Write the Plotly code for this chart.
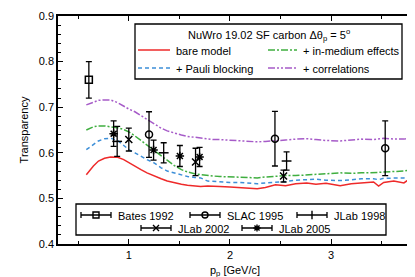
import plotly.graph_objects as go

# ---------------- data ----------------
p_grid = [0.58, 0.65, 0.70, 0.76, 0.82, 0.89, 0.95, 1.0, 1.06, 1.12, 1.18, 1.25, 1.32, 1.38,
          1.45, 1.52, 1.58, 1.65, 1.71, 1.78, 1.84, 1.9, 2.0, 2.1, 2.2, 2.27, 2.35, 2.45,
          2.55, 2.65, 2.76, 2.85, 2.95, 3.09, 3.2, 3.3, 3.42, 3.47, 3.52, 3.62, 3.72, 3.79]
bare = [0.552, 0.571, 0.582, 0.588, 0.591, 0.590, 0.585, 0.578, 0.570, 0.563, 0.556, 0.549,
        0.543, 0.538, 0.534, 0.531, 0.529, 0.527, 0.526, 0.527, 0.527, 0.526, 0.525, 0.524,
        0.522, 0.521, 0.524, 0.530, 0.528, 0.532, 0.534, 0.531, 0.533, 0.528, 0.532, 0.534,
        0.536, 0.527, 0.535, 0.538, 0.534, 0.545]
pauli = [0.607, 0.619, 0.626, 0.631, 0.632, 0.627, 0.616, 0.607, 0.600, 0.592, 0.585, 0.578,
         0.567, 0.560, 0.556, 0.551, 0.548, 0.546, 0.545, 0.538, 0.537, 0.536, 0.535, 0.535,
         0.533, 0.532, 0.534, 0.535, 0.537, 0.540, 0.541, 0.542, 0.540, 0.539, 0.541, 0.543,
         0.543, 0.541, 0.544, 0.544, 0.545, 0.552]
medium = [0.650, 0.657, 0.659, 0.659, 0.657, 0.655, 0.651, 0.646, 0.637, 0.627, 0.617, 0.605,
          0.594, 0.582, 0.572, 0.563, 0.558, 0.554, 0.552, 0.550, 0.549, 0.548, 0.547, 0.546,
          0.545, 0.545, 0.547, 0.549, 0.550, 0.550, 0.551, 0.552, 0.554, 0.556, 0.555, 0.556,
          0.556, 0.557, 0.558, 0.559, 0.560, 0.563]
corr = [0.705, 0.711, 0.715, 0.716, 0.716, 0.710, 0.702, 0.696, 0.690, 0.682, 0.673, 0.663,
        0.654, 0.648, 0.643, 0.639, 0.636, 0.634, 0.632, 0.630, 0.629, 0.629, 0.628, 0.627,
        0.625, 0.624, 0.625, 0.626, 0.628, 0.630, 0.631, 0.629, 0.627, 0.626, 0.628, 0.630,
        0.629, 0.631, 0.632, 0.630, 0.630, 0.633]

bates_p = [0.605]
bates_t = [0.76]
bates_e = [0.04]
slac_p = [1.20, 2.445, 3.535]
slac_t = [0.64, 0.631, 0.61]
slac_e = [0.05, 0.06, 0.06]
jlab98_p = [0.885, 1.345, 2.56]
jlab98_t = [0.625, 0.600, 0.582]
jlab98_e = [0.033, 0.022, 0.02]
jlab02_p = [1.0, 1.66, 2.53]
jlab02_t = [0.629, 0.58, 0.549]
jlab02_e = [0.025, 0.03, 0.013]
jlab05_p = [0.85, 1.245, 1.505, 1.70]
jlab05_t = [0.642, 0.606, 0.593, 0.591]
jlab05_e = [0.028, 0.022, 0.023, 0.021]

x_ticks = [1, 2, 3]
y_ticks = [0.4, 0.5, 0.6, 0.7, 0.8, 0.9]

# ---------------- styles ----------------
FONT = "Liberation Sans, Arial, Helvetica, sans-serif"
RED = "#ee2a2a"
BLUE = "#3d8fd8"
GREEN = "#3fae3f"
PURPLE = "#a65bc8"
curves = [
    (bare, RED, "solid"),
    (pauli, BLUE, "4px,3px"),
    (medium, GREEN, "7px,2px,2px,2px"),
    (corr, PURPLE, "7px,2px,2px,2px,2px,2px"),
]

fig = go.Figure()
for ys, col, dash in curves:
    fig.add_trace(go.Scatter(x=p_grid, y=ys, mode="lines",
                             line=dict(color=col, width=1.5, dash=dash),
                             showlegend=False, hoverinfo="skip"))

datasets = [
    (bates_p, bates_t, bates_e, "square-open", 7),
    (slac_p, slac_t, slac_e, "circle-open", 7),
    (jlab98_p, jlab98_t, jlab98_e, "line-ew", 7),
    (jlab02_p, jlab02_t, jlab02_e, "x-thin-open", 7),
    (jlab05_p, jlab05_t, jlab05_e, "asterisk-open", 7),
]
for xs, ys, es, sym, sz in datasets:
    fig.add_trace(go.Scatter(
        x=xs, y=ys, mode="markers",
        marker=dict(symbol=sym, size=sz, color="black",
                    line=dict(color="black", width=1.5)),
        error_y=dict(type="data", array=es, visible=True, color="black",
                     thickness=1.3, width=3),
        showlegend=False))

# ---------------- legend (overlay axes in pixel-like units) ----------------
shapes = []
annotations = []
# top legend box
shapes.append(dict(type="rect", xref="x2", yref="y2", x0=127, x1=394, y0=16, y1=71,
                   line=dict(color="black", width=1.3), fillcolor="white", layer="below"))
annotations.append(dict(xref="x2", yref="y2", x=261, y=27, showarrow=False,
                        text="NuWro 19.02 SF carbon Δθ<sub>p</sub> = 5<sup>o</sup>",
                        font=dict(family=FONT, size=11, color="black")))
top_items = [
    (130, 162, 42, RED, "solid", "bare model"),
    (130, 162, 60, BLUE, "4px,3px", "+ Pauli blocking"),
    (260, 289, 42, GREEN, "7px,2px,2px,2px", "+ in-medium effects"),
    (260, 289, 60, PURPLE, "7px,2px,2px,2px,2px,2px", "+ correlations"),
]
for x0, x1, yy, col, dash, txt in top_items:
    fig.add_trace(go.Scatter(x=[x0, x1], y=[yy, yy], xaxis="x2", yaxis="y2", mode="lines",
                             line=dict(color=col, width=1.5, dash=dash),
                             showlegend=False, hoverinfo="skip"))
    annotations.append(dict(xref="x2", yref="y2", x=x1 + 4, y=yy + 1, xanchor="left",
                            showarrow=False, text=txt,
                            font=dict(family=FONT, size=11, color="black")))

# bottom legend box
shapes.append(dict(type="rect", xref="x2", yref="y2", x0=68, x1=378, y0=196, y1=227,
                   line=dict(color="black", width=1.3), fillcolor="white", layer="below"))
bottom_items = [
    (73, 103, 207, "square-open", "Bates 1992"),
    (182, 212, 207, "circle-open", "SLAC 1995"),
    (289, 319, 207, "line-ns", "JLab 1998"),
    (133, 163, 220, "x-thin-open", "JLab 2002"),
    (234, 264, 220, "asterisk-open", "JLab 2005"),
]
for x0, x1, yy, sym, txt in bottom_items:
    xc = (x0 + x1) / 2
    fig.add_trace(go.Scatter(
        x=[xc], y=[yy], xaxis="x2", yaxis="y2", mode="markers",
        marker=dict(symbol=sym, size=6, color="black", line=dict(color="black", width=1.4)),
        error_x=dict(type="constant", value=(x1 - x0) / 2, color="black", thickness=1.3, width=3),
        showlegend=False, hoverinfo="skip"))
    annotations.append(dict(xref="x2", yref="y2", x=x1 + 5, y=yy + 1, xanchor="left",
                            showarrow=False, text=txt,
                            font=dict(family=FONT, size=11, color="black")))

axis_common = dict(showgrid=False, zeroline=False, showline=True, linecolor="black",
                   linewidth=1.5, mirror="allticks", ticks="inside", tickcolor="black",
                   tickwidth=1.2, ticklen=5, automargin=False,
                   tickfont=dict(family=FONT, size=11, color="black"))

fig.update_layout(
    width=415, height=277, autosize=False,
    margin=dict(l=50, r=11, t=8, b=41, pad=0, autoexpand=False),
    paper_bgcolor="white", plot_bgcolor="white",
    showlegend=False,
    xaxis=dict(range=[0.3, 3.8], tickvals=x_ticks, ticktext=[str(v) for v in x_ticks],
               minor=dict(dtick=0.5, tick0=0, ticks="inside", ticklen=3, tickcolor="black",
                          tickwidth=1),
               title=dict(text="p<sub>p</sub> [GeV/c]", standoff=6,
                          font=dict(family=FONT, size=11, color="black")),
               **axis_common),
    yaxis=dict(range=[0.4, 0.9], tickvals=y_ticks, ticktext=[f"{v:.1f}" for v in y_ticks],
               minor=dict(dtick=0.02, tick0=0.4, ticks="inside", ticklen=3, tickcolor="black",
                          tickwidth=1),
               title=dict(text="Transparency", standoff=8,
                          font=dict(family=FONT, size=11, color="black")),
               **axis_common),
    xaxis2=dict(overlaying="x", range=[50, 404], visible=False, fixedrange=True, automargin=False),
    yaxis2=dict(overlaying="y", range=[236, 8], visible=False, fixedrange=True, automargin=False),
    shapes=shapes,
    annotations=annotations,
)

fig.write_html("out.html")
